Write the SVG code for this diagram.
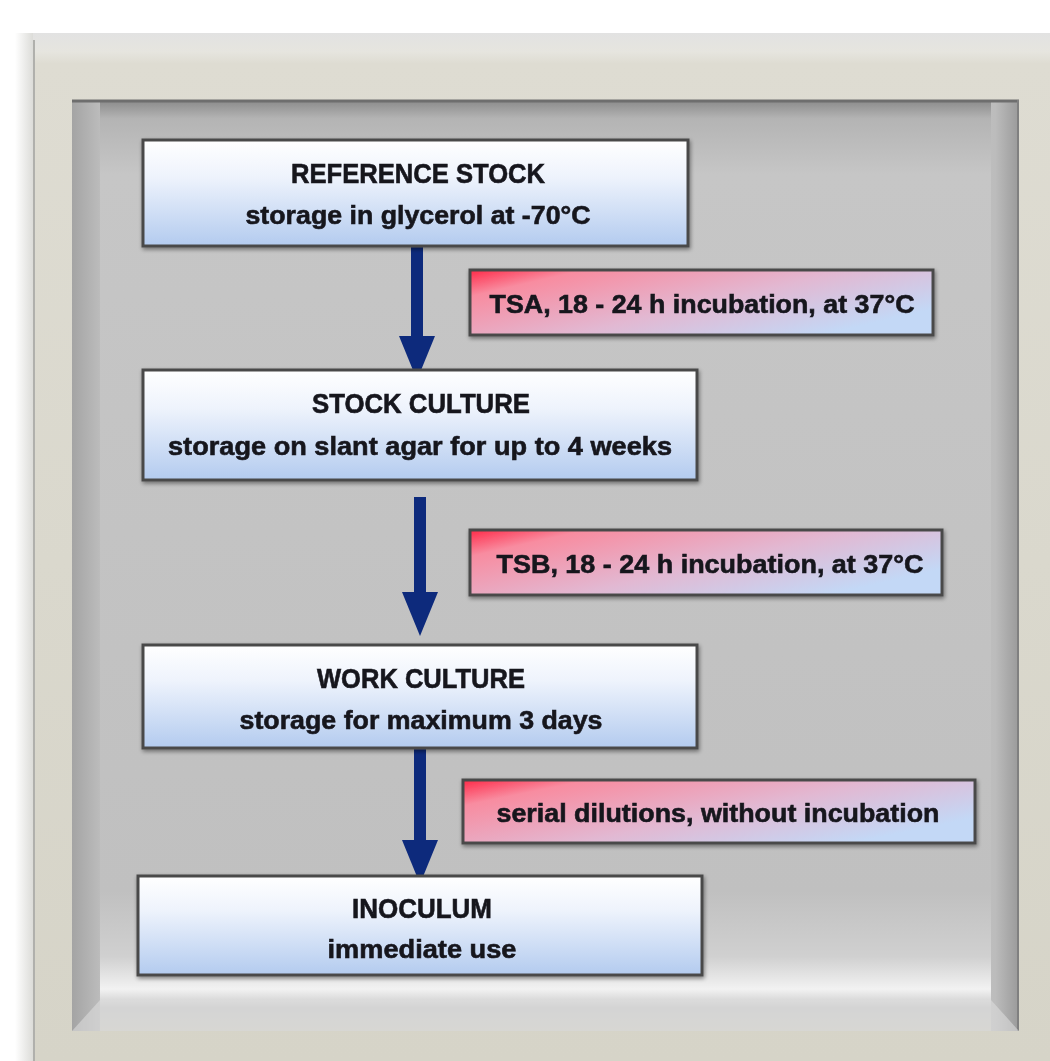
<svg xmlns="http://www.w3.org/2000/svg" width="1050" height="1061" viewBox="0 0 1050 1061">
<defs>
<linearGradient id="boxg" x1="0" y1="0" x2="0" y2="1">
<stop offset="0" stop-color="#ffffff"/>
<stop offset="0.35" stop-color="#eef3fc"/>
<stop offset="1" stop-color="#b3cbef"/>
</linearGradient>
<linearGradient id="lblg" x1="0" y1="0" x2="1" y2="0.6">
<stop offset="0" stop-color="#ff2a48"/>
<stop offset="0.18" stop-color="#f88ca0"/>
<stop offset="0.6" stop-color="#e2b8d2"/>
<stop offset="1" stop-color="#c3d8f6"/>
</linearGradient>
<linearGradient id="outerg" x1="0" y1="0" x2="0" y2="1">
<stop offset="0" stop-color="#e2e2e2"/>
<stop offset="0.018" stop-color="#e6e5df"/>
<stop offset="0.03" stop-color="#dedcd2"/>
<stop offset="1" stop-color="#d6d4c8"/>
</linearGradient>
<linearGradient id="panelg" x1="0" y1="0" x2="0" y2="1">
<stop offset="0" stop-color="#8a8a8a"/>
<stop offset="0.02" stop-color="#b4b4b4"/>
<stop offset="0.08" stop-color="#c6c6c6"/>
<stop offset="0.85" stop-color="#c0c0c0"/>
<stop offset="0.92" stop-color="#d0d0d0"/>
<stop offset="0.955" stop-color="#f2f2f2"/>
<stop offset="0.975" stop-color="#c8c8c8"/>
<stop offset="1" stop-color="#d0cfc6"/>
</linearGradient>
<linearGradient id="leftfade" x1="0" y1="0" x2="1" y2="0">
<stop offset="0" stop-color="#ffffff"/>
<stop offset="1" stop-color="#d8d8d4"/>
</linearGradient>
<linearGradient id="panelside" x1="0" y1="0" x2="1" y2="0">
<stop offset="0" stop-color="#a4a4a4"/>
<stop offset="0.03" stop-color="#bcbcbc"/>
<stop offset="0.08" stop-color="#c4c4c4"/>
<stop offset="0.92" stop-color="#c6c6c6"/>
<stop offset="0.975" stop-color="#bcbcbc"/>
<stop offset="1" stop-color="#9a9a9a"/>
</linearGradient>
<filter id="sh" x="-5%" y="-10%" width="110%" height="130%">
<feGaussianBlur in="SourceAlpha" stdDeviation="2"/>
<feOffset dx="1" dy="2" result="b"/>
<feComponentTransfer><feFuncA type="linear" slope="0.45"/></feComponentTransfer>
<feMerge><feMergeNode/><feMergeNode in="SourceGraphic"/></feMerge>
</filter>
<marker id="ah" markerUnits="userSpaceOnUse" markerWidth="44" markerHeight="36" refX="0" refY="18" orient="auto" viewBox="0 0 44 36">
<path d="M0,0 L44,18 L0,36 Z" fill="#0d2a7c"/>
</marker>
</defs>
<style>
.node rect.b{fill:url(#boxg);stroke:#4a4a4a;stroke-width:3}
.lbl rect{fill:url(#lblg);stroke:#4a4a4a;stroke-width:3}
text{font-family:"Liberation Sans Narrow","Liberation Sans",Arial,sans-serif;font-weight:bold;fill:#16161e;stroke:#16161e;stroke-width:0.6;text-anchor:middle}
.t{font-size:27px}
.s{font-size:26px}
.conn line{stroke:#0d2a7c;stroke-width:12}
</style>
<rect x="0" y="0" width="1050" height="1061" fill="#ffffff"/>
<!-- outer frame -->
<rect x="15" y="33" width="20" height="1028" fill="url(#leftfade)"/>
<rect x="33" y="33" width="1017" height="1028" fill="url(#outerg)"/>
<line x1="34" y1="40" x2="34" y2="1061" stroke="#b0b0ac" stroke-width="2"/>
<!-- inner panel -->
<rect x="72" y="100" width="947" height="931" fill="url(#panelside)"/>
<rect x="100" y="100" width="891" height="931" fill="url(#panelg)"/>
<line x1="72" y1="101" x2="1019" y2="101" stroke="#6e6e6e" stroke-width="3"/>
<line x1="1018" y1="100" x2="1018" y2="1031" stroke="#808080" stroke-width="2"/>
<path d="M72,1031 L100,1000 L991,1000 L1019,1031 Z" fill="#dcdcdc" opacity="0.6"/>
<g class="conn">
<line x1="417" y1="246" x2="417" y2="336" marker-end="url(#ah)"/>
<line x1="420" y1="497" x2="420" y2="592" marker-end="url(#ah)"/>
<line x1="420" y1="743" x2="420" y2="840" marker-end="url(#ah)"/>
</g>
<g id="n1" class="node" filter="url(#sh)">
<rect class="b" x="143" y="140" width="545" height="106"/>
<text class="t" x="418" y="183" textLength="254" lengthAdjust="spacingAndGlyphs">REFERENCE STOCK</text>
<text class="s" x="418" y="224" textLength="345" lengthAdjust="spacingAndGlyphs">storage in glycerol at -70°C</text>
</g>
<g id="n2" class="node" filter="url(#sh)">
<rect class="b" x="143" y="370" width="554" height="110"/>
<text class="t" x="421" y="413" textLength="218" lengthAdjust="spacingAndGlyphs">STOCK CULTURE</text>
<text class="s" x="420" y="455" textLength="504" lengthAdjust="spacingAndGlyphs">storage on slant agar for up to 4 weeks</text>
</g>
<g id="n3" class="node" filter="url(#sh)">
<rect class="b" x="143" y="645" width="554" height="103"/>
<text class="t" x="421" y="688" textLength="208" lengthAdjust="spacingAndGlyphs">WORK CULTURE</text>
<text class="s" x="421" y="729" textLength="363" lengthAdjust="spacingAndGlyphs">storage for maximum 3 days</text>
</g>
<g id="n4" class="node" filter="url(#sh)">
<rect class="b" x="138" y="876" width="564" height="99"/>
<text class="t" x="422" y="918" textLength="140" lengthAdjust="spacingAndGlyphs">INOCULUM</text>
<text class="s" x="422" y="958" textLength="189" lengthAdjust="spacingAndGlyphs">immediate use</text>
</g>
<g id="l1" class="lbl" filter="url(#sh)">
<rect x="470" y="270" width="463" height="65"/>
<text class="s" x="702" y="313" textLength="425" lengthAdjust="spacingAndGlyphs">TSA, 18 - 24 h incubation, at 37°C</text>
</g>
<g id="l2" class="lbl" filter="url(#sh)">
<rect x="470" y="530" width="472" height="65"/>
<text class="s" x="710" y="573" textLength="427" lengthAdjust="spacingAndGlyphs">TSB, 18 - 24 h incubation, at 37°C</text>
</g>
<g id="l3" class="lbl" filter="url(#sh)">
<rect x="463" y="780" width="512" height="63"/>
<text class="s" x="718" y="822" textLength="443" lengthAdjust="spacingAndGlyphs">serial dilutions, without incubation</text>
</g>
</svg>
